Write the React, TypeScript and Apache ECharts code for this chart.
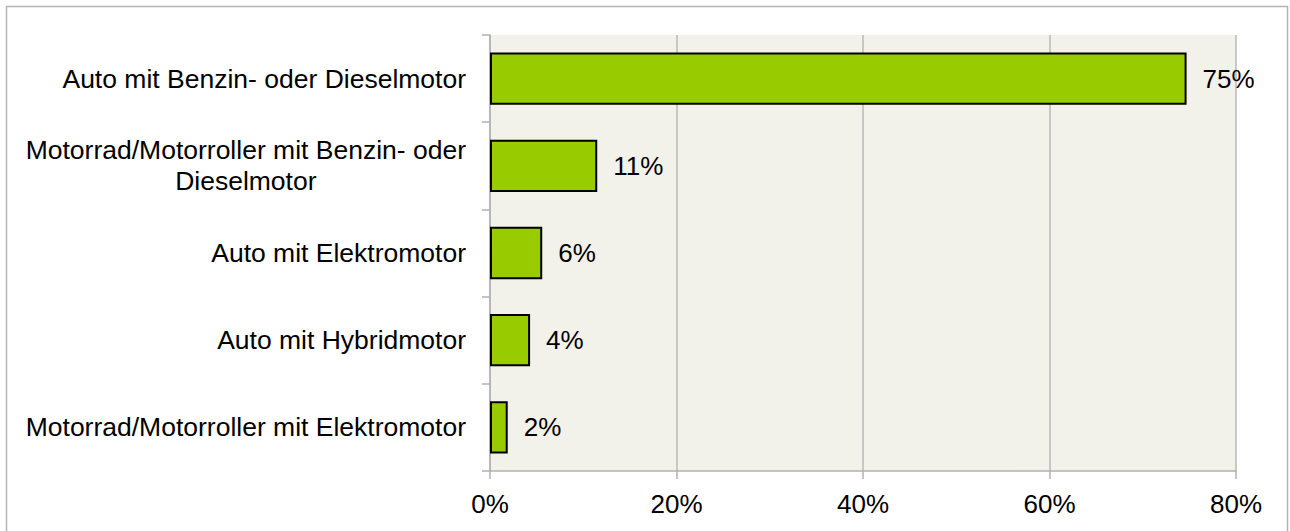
import React, { useEffect, useRef } from "react";
import * as echarts from "echarts";

const categories = [
  "Auto mit Benzin- oder Dieselmotor",
  "Motorrad/Motorroller mit Benzin- oder\nDieselmotor",
  "Auto mit Elektromotor",
  "Auto mit Hybridmotor",
  "Motorrad/Motorroller mit Elektromotor",
];
const values = [74.7, 11.5, 5.6, 4.3, 1.9];
const valueLabels = ["75%", "11%", "6%", "4%", "2%"];
const xTicks = [0, 20, 40, 60, 80];

export default function App() {
  const ref = useRef<HTMLDivElement>(null);
  useEffect(() => {
    document.body.style.margin = "0";
    const chart = echarts.init(ref.current!, null, { renderer: "svg" });
    const font = "'Liberation Sans', Arial, sans-serif";
    chart.setOption({
      animation: false,
      backgroundColor: "#ffffff",
      textStyle: { fontFamily: font },
      graphic: [
        {
          type: "rect",
          shape: { x: 6.5, y: 6.5, width: 1281, height: 540 },
          style: { fill: "none", stroke: "#b4b4b4", lineWidth: 1.5 },
          silent: true,
        },
      ],
      grid: {
        left: 490,
        right: 54,
        top: 35,
        bottom: 60,
        show: true,
        backgroundColor: "#f2f1ea",
        borderWidth: 0,
      },
      xAxis: {
        type: "value",
        min: xTicks[0],
        max: xTicks[xTicks.length - 1],
        interval: 20,
        axisLine: { show: true, lineStyle: { color: "#b0b0b0", width: 1.5 } },
        axisTick: { show: true, length: 8, lineStyle: { color: "#b0b0b0", width: 1.5 } },
        splitLine: { show: true, lineStyle: { color: "#b8b8b8", width: 1.5 } },
        axisLabel: {
          formatter: (v: number) => v + "%",
          color: "#000",
          fontSize: 26,
          fontFamily: font,
          margin: 20,
        },
      },
      yAxis: {
        type: "category",
        data: categories,
        inverse: true,
        axisLine: { show: true, lineStyle: { color: "#b0b0b0", width: 1.5 } },
        axisTick: { show: true, length: 8, lineStyle: { color: "#b0b0b0", width: 1.5 } },
        splitLine: { show: false },
        axisLabel: {
          color: "#000",
          fontSize: 26.5,
          fontFamily: font,
          margin: 24,
          align: "right",
          lineHeight: 31,
          formatter: (v: string) =>
            v
              .split("\n")
              .map((s) => "{c|" + s + "}")
              .join("\n"),
          rich: {
            c: {
              align: "center",
              fontSize: 26.5,
              lineHeight: 31,
              color: "#000",
              fontFamily: font,
            },
          },
        },
      },
      series: [
        {
          type: "bar",
          data: values,
          barCategoryGap: "40%",
          itemStyle: { color: "#99cc00", borderColor: "#000", borderWidth: 2 },
          label: {
            show: true,
            position: "right",
            distance: 16,
            color: "#000",
            fontSize: 26,
            fontFamily: font,
            formatter: (p: any) => valueLabels[p.dataIndex],
          },
        },
      ],
    });
    return () => chart.dispose();
  }, []);
  return <div ref={ref} style={{ width: 1290, height: 531 }} />;
}
